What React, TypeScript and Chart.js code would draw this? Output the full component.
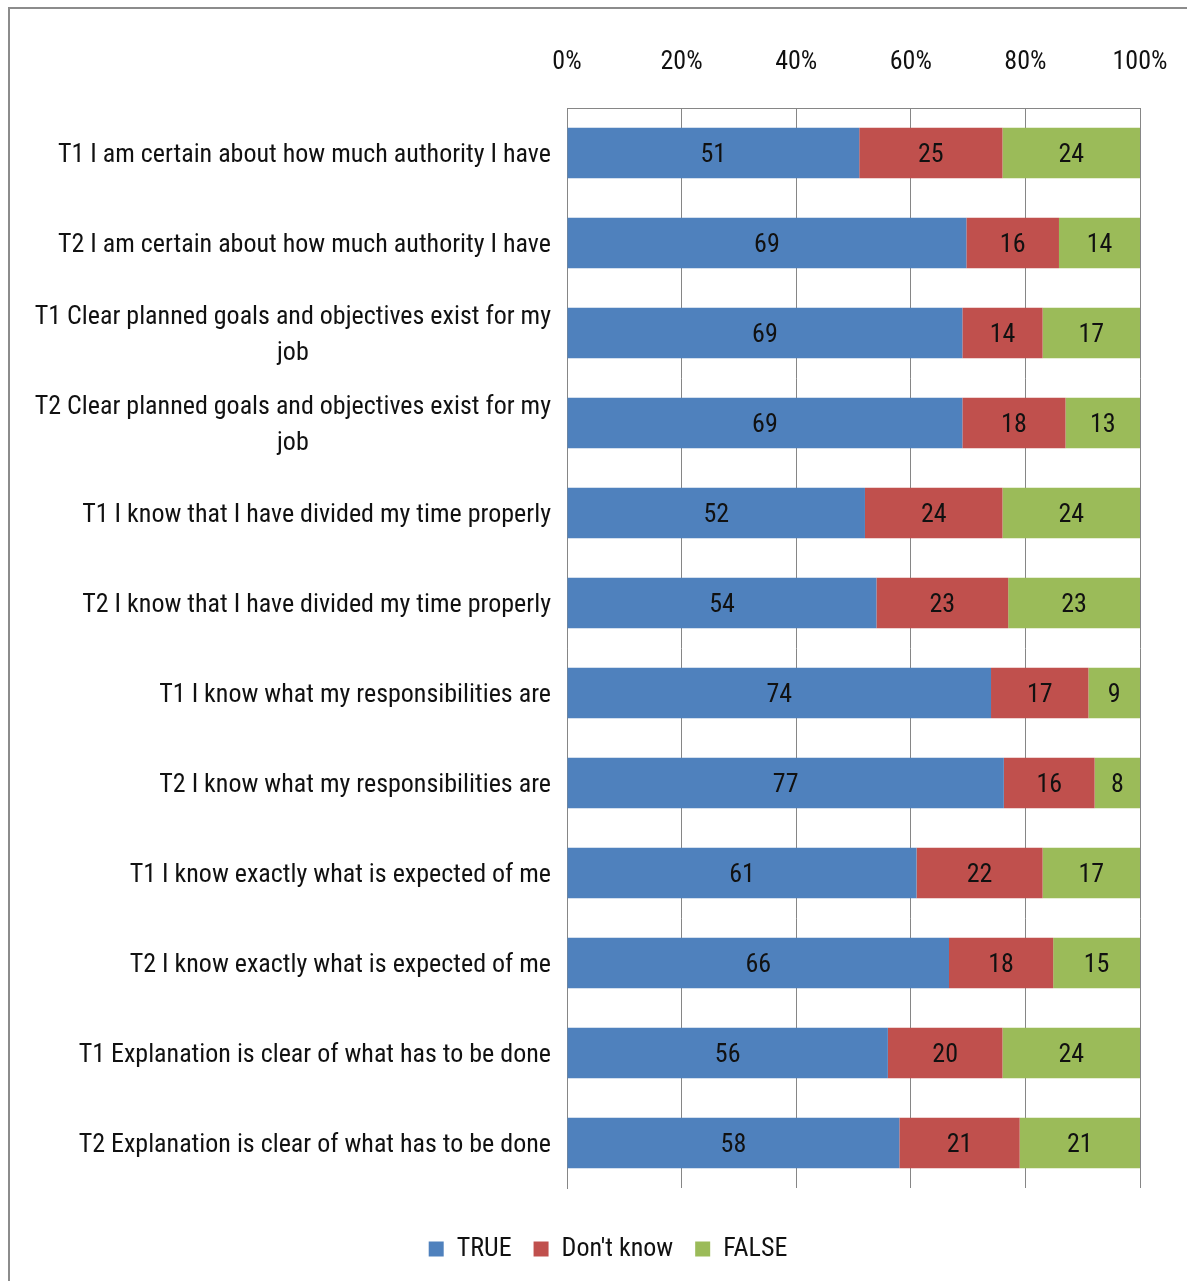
import React, { useEffect, useRef } from 'react';
import { Chart, registerables } from 'chart.js';

Chart.register(...registerables);

const FONT = '"Roboto Condensed", "Open Sans", sans-serif';

const categories: string[][] = [
  ['T1 I am certain about how much authority I have'],
  ['T2 I am certain about how much authority I have'],
  ['T1 Clear planned goals and objectives exist for my', 'job'],
  ['T2 Clear planned goals and objectives exist for my', 'job'],
  ['T1 I know that I have divided my time properly'],
  ['T2 I know that I have divided my time properly'],
  ['T1 I know what my responsibilities are'],
  ['T2 I know what my responsibilities are'],
  ['T1 I know exactly what is expected of me'],
  ['T2 I know exactly what is expected of me'],
  ['T1 Explanation is clear of what has to be done'],
  ['T2 Explanation is clear of what has to be done'],
];

const seriesNames = ['TRUE', "Don't know", 'FALSE'];
const trueValues = [51, 69, 69, 69, 52, 54, 74, 77, 61, 66, 56, 58];
const dontKnowValues = [25, 16, 14, 18, 24, 23, 17, 16, 22, 18, 20, 21];
const falseValues = [24, 14, 17, 13, 24, 23, 9, 8, 17, 15, 24, 21];
const seriesColors = ['#4F81BD', '#C0504D', '#9BBB59'];
const tickValues = [0, 20, 40, 60, 80, 100];

const rawSeries = [trueValues, dontKnowValues, falseValues];
const rowTotals = categories.map((_, i) => rawSeries.reduce((s, arr) => s + arr[i], 0));

const valueLabelsPlugin = {
  id: 'valueLabels',
  afterDatasetsDraw(chart: any) {
    const ctx = chart.ctx;
    ctx.save();
    ctx.font = `26px ${FONT}`;
    ctx.fillStyle = '#111';
    ctx.textAlign = 'center';
    ctx.textBaseline = 'middle';
    chart.data.datasets.forEach((ds: any, di: number) => {
      const meta = chart.getDatasetMeta(di);
      meta.data.forEach((bar: any, i: number) => {
        const p = bar.getProps(['x', 'y', 'base'], true);
        ctx.fillText(String(rawSeries[di][i]), (p.x + p.base) / 2, p.y + 2);
      });
    });
    ctx.restore();
  },
};

const categoryLabelsPlugin = {
  id: 'categoryLabels',
  afterDraw(chart: any) {
    const ctx = chart.ctx;
    const yScale = chart.scales.y;
    const right = yScale.right - 16;
    ctx.save();
    ctx.font = `26px ${FONT}`;
    ctx.fillStyle = '#111';
    ctx.textAlign = 'center';
    ctx.textBaseline = 'middle';
    const lh = 36;
    categories.forEach((lines, i) => {
      const cy = yScale.getPixelForTick(i);
      const w = Math.max(...lines.map((l) => ctx.measureText(l).width));
      const cx = right - w / 2;
      lines.forEach((l, j) => {
        ctx.fillText(l, cx, cy + (j - (lines.length - 1) / 2) * lh + 2);
      });
    });
    ctx.restore();
  },
};

export default function App() {
  const ref = useRef<HTMLCanvasElement | null>(null);

  useEffect(() => {
    if (!ref.current) return;
    const chart = new Chart(ref.current, {
      type: 'bar',
      data: {
        labels: categories.map((c) => c.join(' ')),
        datasets: seriesNames.map((name, di) => ({
          label: name,
          data: rawSeries[di].map((v, i) => (v / rowTotals[i]) * 100),
          backgroundColor: seriesColors[di],
          borderWidth: 0,
          barPercentage: 1,
          categoryPercentage: 0.56,
        })),
      },
      options: {
        indexAxis: 'y',
        responsive: false,
        animation: false,
        layout: { padding: { left: 66, right: 47, top: 0, bottom: 9 } },
        scales: {
          x: {
            position: 'top',
            stacked: true,
            min: 0,
            max: 100,
            afterFit: (axis: any) => {
              axis.height = 99;
              axis.paddingLeft = 0;
              axis.paddingRight = 0;
            },
            afterBuildTicks: (axis: any) => {
              axis.ticks = tickValues.map((v) => ({ value: v }));
            },
            ticks: {
              callback: (v: any) => v + '%',
              font: { family: FONT, size: 26 },
              color: '#111',
              padding: 30,
            },
            grid: { color: '#868686', lineWidth: 1, drawTicks: false },
            border: { display: true, color: '#868686', width: 1 },
          },
          y: {
            stacked: true,
            afterFit: (axis: any) => {
              axis.width = 491;
              axis.paddingTop = 0;
              axis.paddingBottom = 0;
            },
            ticks: { display: false },
            grid: { display: false, drawTicks: false },
            border: { display: true, color: '#868686', width: 1 },
          },
        },
        plugins: {
          legend: {
            position: 'bottom',
            title: { display: true, text: '', padding: { top: 16, bottom: 0 }, font: { size: 10, lineHeight: 1 } },
            labels: {
              boxWidth: 15,
              boxHeight: 15,
              padding: 22,
              color: '#111',
              font: { family: FONT, size: 26 },
            },
          },
          tooltip: { enabled: false },
        },
      },
      plugins: [valueLabelsPlugin, categoryLabelsPlugin],
    } as any);
    return () => chart.destroy();
  }, []);

  return (
    <div
      style={{
        position: 'absolute',
        left: 8,
        top: 7,
        right: 0,
        height: 1272,
        borderTop: '2px solid #8c8c8c',
        borderLeft: '2px solid #8c8c8c',
        background: '#fff',
      }}
    >
      <canvas ref={ref} width={1177} height={1272} style={{ display: 'block' }} />
    </div>
  );
}
